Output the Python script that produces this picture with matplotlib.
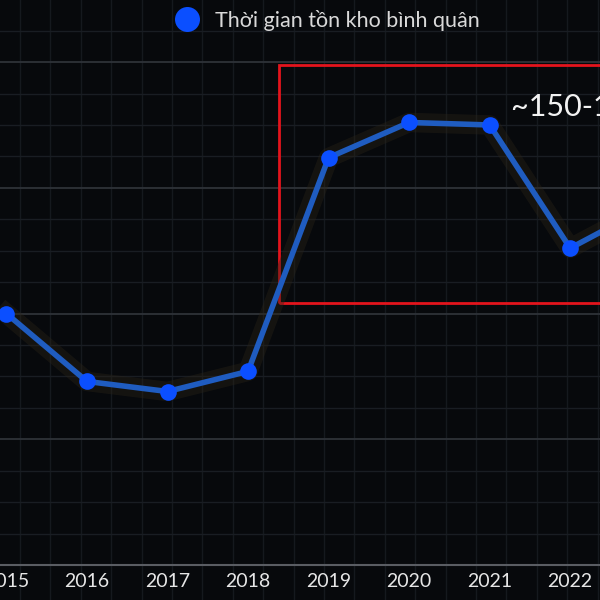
import matplotlib
matplotlib.use("Agg")
import matplotlib.pyplot as plt
import matplotlib.patheffects as pe
from matplotlib.lines import Line2D
from matplotlib.patches import Rectangle
from matplotlib.ticker import MultipleLocator
import numpy as np

# data (average inventory days)
years = [2015, 2016, 2017, 2018, 2019, 2020, 2021, 2022, 2023]
days = [100, 73, 69, 77, 162, 176, 175, 126, 143]
year_labels = ["2015", "2016", "2017", "2018", "2019", "2020", "2021", "2022", "2023"]
series_name = "Thời gian tồn kho bình quân"
note_text = "~150-180 ngày"

bg = "#07090c"
line_blue = "#1f5cc0"
dot_blue = "#0b4fff"

fig = plt.figure(figsize=(6, 6), dpi=100)
fig.patch.set_facecolor(bg)

# background grid for the vertical lines (pixel coords)
bg_ax = fig.add_axes([0, 0, 1, 1])
bg_ax.set_xlim(0, 600)
bg_ax.set_ylim(600, 0)
bg_ax.set_facecolor(bg)
for x in np.arange(20, 600, 30.4):
    bg_ax.axvline(x, color="#15191e", lw=1, zorder=0)
bg_ax.axis("off")

ax = fig.add_axes([0, 35 / 600, 1, 565 / 600])
ax.patch.set_alpha(0)

ax.yaxis.set_major_locator(MultipleLocator(50))
ax.yaxis.set_minor_locator(MultipleLocator(12.5))
ax.grid(axis="y", which="major", color="#2e3238", lw=1.3)
ax.grid(axis="y", which="minor", color="#191d23", lw=1)
ax.tick_params(axis="y", which="both", left=False, labelleft=False)

ax.set_xticks(years)
ax.set_xticklabels(year_labels)
ax.tick_params(axis="x", length=0, pad=6, labelsize=14, labelcolor="#e6e6e6")
for lab in ax.get_xticklabels():
    lab.set_family(["Lato", "DejaVu Sans"])

# limits after the ticks so they are not widened
ax.set_xlim(2014.92, 2022.37)
ax.set_ylim(0, 224.7)

for s in ["top", "left", "right"]:
    ax.spines[s].set_visible(False)
ax.spines["bottom"].set_color("#5a5d63")
ax.spines["bottom"].set_linewidth(1.5)

# highlight box + note
ax.add_patch(Rectangle((2018.386, 104.2), 5, 94.6, fill=False,
                       edgecolor="#e3141c", lw=2, zorder=3))
ax.text(2021.27, 182, note_text, color="#f2f2f2", fontsize=22,
        family=["Lato", "DejaVu Sans"],
        va="center", ha="left", zorder=4)

glow = [pe.Stroke(linewidth=14, foreground="#2a2418", alpha=0.4), pe.Normal()]
ax.plot(years, days, color=line_blue, lw=4, zorder=5, path_effects=glow,
        solid_joinstyle="round")
ax.plot(years, days, "o", color=dot_blue, ms=12, zorder=6, mec="none")

handle = Line2D([], [], marker="o", color=dot_blue, ls="none", ms=18, mec="none")
leg = fig.legend([handle], [series_name], loc="center",
                 bbox_to_anchor=(0.537, 0.966), frameon=False,
                 handletextpad=0.3, prop={"family": ["Lato", "DejaVu Sans"], "size": 15.5})
for t in leg.get_texts():
    t.set_color("#d9d9d9")

fig.savefig("out.png", dpi=100, facecolor=bg)
